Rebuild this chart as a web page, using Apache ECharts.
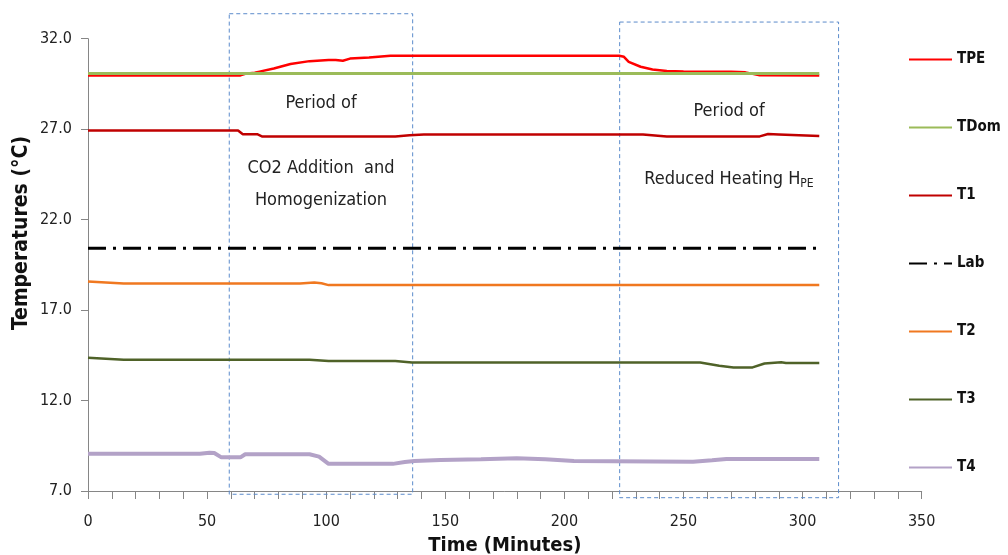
<!DOCTYPE html>
<html>
<head>
<meta charset="utf-8">
<script src="https://cdn.jsdelivr.net/npm/echarts@6/dist/echarts.min.js"></script>
<style>
html,body{margin:0;padding:0;background:#fff;overflow:hidden;}
#main{width:1008px;height:555px;}
</style>
</head>
<body>
<div id="main"></div>
<script>
// ---- Data (time in minutes, temperature in °C) ----
var seriesNames = ['TPE', 'TDom', 'T1', 'Lab', 'T2', 'T3', 'T4'];

var TPE = [[0,29.97],[64,29.97],[66,30.06],[70,30.12],[72,30.18],[78,30.35],[85,30.6],[93,30.76],[101,30.82],[104,30.82],[107,30.78],[110,30.9],[118,30.96],[127,31.06],[223,31.06],[225,31.0],[227,30.72],[232,30.45],[237,30.3],[243,30.22],[250,30.19],[270,30.17],[276,30.14],[282,29.98],[307,29.97]];
var TDom = [[0,30.08],[307,30.08]];
var T1 = [[0,26.93],[63,26.93],[65,26.72],[71,26.72],[73,26.6],[129,26.6],[135,26.66],[141,26.7],[233,26.7],[243,26.6],[282,26.6],[285.5,26.73],[290,26.71],[307,26.62]];
var Lab = [[0,20.42],[307,20.42]];
var T2 = [[0,18.58],[15,18.47],[89,18.47],[95,18.52],[98,18.48],[101,18.38],[307,18.38]];
var T3 = [[0,14.37],[15,14.26],[93,14.26],[101,14.18],[129,14.18],[136,14.1],[257,14.1],[265,13.92],[271,13.83],[279,13.83],[284,14.05],[291,14.12],[293,14.08],[307,14.08]];
var T4 = [[0,9.06],[47,9.06],[51,9.12],[53,9.1],[56,8.86],[64,8.86],[66,9.03],[93,9.03],[97,8.9],[101,8.5],[128,8.5],[133,8.6],[137,8.66],[148,8.71],[165,8.76],[180,8.81],[192,8.76],[204,8.66],[254,8.62],[262,8.7],[268,8.77],[307,8.77]];

// period boxes: [tStart, tEnd, tempTop, tempBottom]
var periods = [[59.3, 136.3, 33.38, 6.82], [223.2, 315.1, 32.92, 6.63]];

var yTicks = [7, 12, 17, 22, 27, 32];
var xTicks = [0, 50, 100, 150, 200, 250, 300, 350];

var seriesColors = ['#FF0000', '#9BBB59', '#C00000', '#000000', '#F07820', '#4F6228', '#B3A2C7'];
var seriesWidths = [2.5, 3, 2.5, 3, 2.5, 2.5, 4];
var seriesData = [TPE, TDom, T1, Lab, T2, T3, T4];

var FONT = "'Liberation Sans Narrow', 'DejaVu Sans Condensed', 'Roboto', sans-serif";

var chart = echarts.init(document.getElementById('main'), null, {renderer: 'canvas', width: 1008, height: 555});

var lineSeries = seriesNames.map(function (n, i) {
  return {
    name: n,
    type: 'line',
    data: seriesData[i],
    symbol: 'none',
    smooth: false,
    z: 3,
    lineStyle: {
      color: seriesColors[i],
      width: seriesWidths[i],
      type: n === 'Lab' ? [18, 7, 3, 7] : 'solid'
    },
    itemStyle: {color: seriesColors[i]}
  };
});

var boxSeries = {
  type: 'custom',
  name: 'periods',
  data: periods,
  clip: false,
  silent: true,
  z: 2,
  encode: {x: [0, 1], y: [2, 3]},
  renderItem: function (params, api) {
    var p1 = api.coord([api.value(0), api.value(2)]);
    var p2 = api.coord([api.value(1), api.value(3)]);
    return {
      type: 'rect',
      shape: {x: p1[0], y: p1[1], width: p2[0] - p1[0], height: p2[1] - p1[1]},
      style: {fill: 'none', stroke: '#5B8BCB', lineWidth: 1, lineDash: [4, 3]}
    };
  }
};

var option = {
  animation: false,
  backgroundColor: '#ffffff',
  grid: {left: 88, top: 38.7, right: 86.3, bottom: 64, containLabel: false, outerBoundsMode: 'none'},
  xAxis: {
    type: 'value',
    min: xTicks[0],
    max: xTicks[xTicks.length - 1],
    interval: 50,
    axisLine: {show: true, lineStyle: {color: '#868686', width: 1}},
    axisTick: {show: true, length: 8, lineStyle: {color: '#868686'}},
    minorTick: {show: true, splitNumber: 5, length: 8, lineStyle: {color: '#868686'}},
    splitLine: {show: false},
    axisLabel: {fontFamily: FONT, fontSize: 16, color: '#222', margin: 23},
    name: 'Time (Minutes)',
    nameLocation: 'middle',
    nameGap: 45,
    nameTextStyle: {fontFamily: FONT, fontSize: 20, fontWeight: 'bold', color: '#111'}
  },
  yAxis: {
    type: 'value',
    min: yTicks[0],
    max: yTicks[yTicks.length - 1],
    interval: 5,
    axisLine: {show: true, lineStyle: {color: '#868686', width: 1}},
    axisTick: {show: true, length: 7, lineStyle: {color: '#868686'}},
    splitLine: {show: false},
    axisLabel: {fontFamily: FONT, fontSize: 16, color: '#222', margin: 16,
      formatter: function (v) { return v.toFixed(1); }}
  },
  legend: {
    orient: 'vertical',
    left: 903,
    top: 47,
    data: seriesNames,
    itemWidth: 43,
    itemHeight: 18,
    itemGap: 53,
    itemStyle: {opacity: 0},
    textStyle: {fontFamily: FONT, fontSize: 15, fontWeight: 'bold', color: '#111'},
    selectedMode: false
  },
  graphic: [
    {type: 'text', x: 22, y: 233, rotation: Math.PI / 2,
      style: {text: 'Temperatures (°C)', fontFamily: FONT, fontSize: 21, fontWeight: 'bold', fill: '#111',
        textAlign: 'center', textVerticalAlign: 'middle'}},
    {type: 'text', x: 321, y: 103,
      style: {text: 'Period of', fontFamily: FONT, fontSize: 18, fill: '#222', textAlign: 'center', textVerticalAlign: 'middle'}},
    {type: 'text', x: 321, y: 168,
      style: {text: 'CO2 Addition  and', fontFamily: FONT, fontSize: 18, fill: '#222', textAlign: 'center', textVerticalAlign: 'middle'}},
    {type: 'text', x: 321, y: 200,
      style: {text: 'Homogenization', fontFamily: FONT, fontSize: 18, fill: '#222', textAlign: 'center', textVerticalAlign: 'middle'}},
    {type: 'text', x: 729, y: 111,
      style: {text: 'Period of', fontFamily: FONT, fontSize: 18, fill: '#222', textAlign: 'center', textVerticalAlign: 'middle'}},
    {type: 'text', x: 729, y: 179,
      style: {text: 'Reduced Heating H{sub|PE}', fontFamily: FONT, fontSize: 18, fill: '#222', textAlign: 'center', textVerticalAlign: 'middle',
        rich: {sub: {fontFamily: FONT, fontSize: 12, fill: '#222', padding: [10, 0, 0, 0]}}}}
  ],
  series: lineSeries.concat([boxSeries])
};

chart.setOption(option);
</script>
</body>
</html>
